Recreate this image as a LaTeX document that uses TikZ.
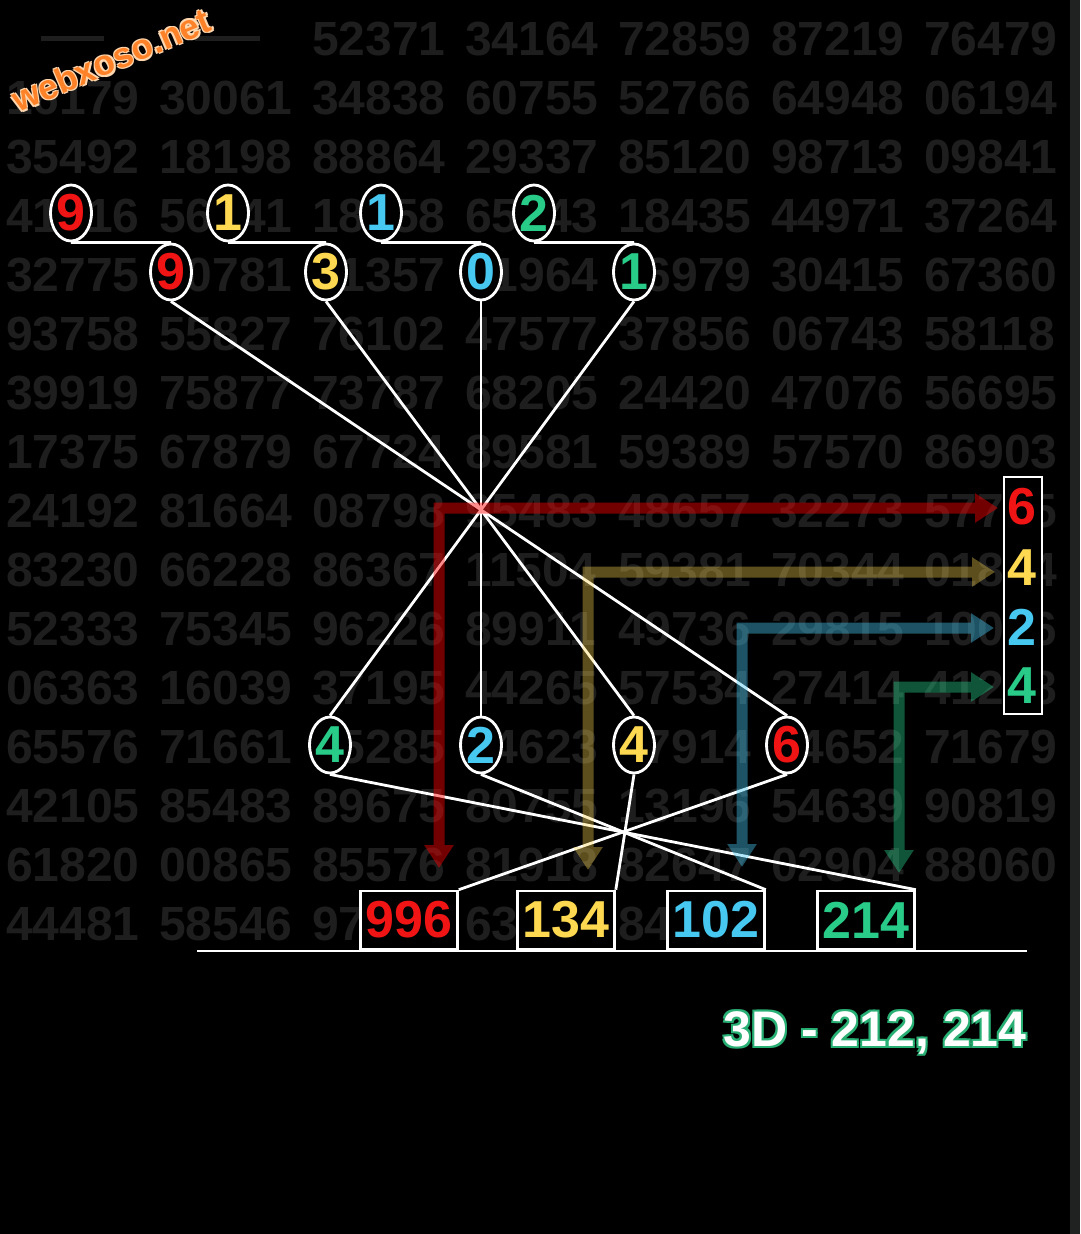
\documentclass[tikz,border=0pt]{standalone}
\usepackage{fontspec}
\setmainfont{Liberation Sans}
\usetikzlibrary{shapes.geometric,arrows.meta}
\definecolor{gridc}{RGB}{30,30,30}
\definecolor{cred}{RGB}{240,20,20}
\definecolor{cyel}{RGB}{253,216,80}
\definecolor{cblu}{RGB}{70,200,240}
\definecolor{cgrn}{RGB}{40,204,136}
\definecolor{worange}{RGB}{255,130,40}
\definecolor{wedge}{RGB}{255,215,175}
\definecolor{tgreen}{RGB}{40,175,115}
\definecolor{strip}{RGB}{32,34,34}
\begin{document}
\begin{tikzpicture}[x=1pt,y=-1pt,
  bgnum/.style={anchor=base west, inner sep=0, text=gridc, font=\fontsize{48}{48}\selectfont\bfseries},
  ball/.style={ellipse, draw=white, line width=2.8pt, fill=black, inner sep=0, minimum width=40pt, minimum height=56pt, font=\fontsize{52}{52}\selectfont\bfseries},
  resbox/.style={rectangle, draw=white, line width=2.6pt, fill=black, minimum width=97pt, minimum height=58pt, inner sep=0, font=\fontsize{52}{52}\selectfont\bfseries},
  sidenum/.style={inner sep=0, font=\fontsize{52}{52}\selectfont\bfseries},
  link/.style={white, line width=2.8pt},
  flow/.style={line width=11pt, line join=miter, {Triangle[width=28pt,length=23pt]}-{Triangle[width=28pt,length=23pt]}},
  titlefont/.style={inner sep=0, font=\fontsize{50}{50}\selectfont\bfseries},
  markfont/.style={inner sep=0, rotate=23, font=\fontsize{35}{35}\selectfont\bfseries}
]
\useasboundingbox (0,0) rectangle (1080,1234);
% background and frame
\fill[black] (0,0) rectangle (1080,1234);
\fill[strip] (1070,0) rectangle (1080,1234);

% background number grid
\coordinate (d1a) at (41,38); \coordinate (d1b) at (104,38);
\coordinate (d2a) at (195,38); \coordinate (d2b) at (260,38);
\draw[gridc, line width=5pt] (d1a) -- (d1b);
\draw[gridc, line width=5pt] (d2a) -- (d2b);
\foreach \n [count=\c from 2] in {52371,34164,72859,87219,76479}
  \node[bgnum] (g-1-\c) at ({6+153*\c},55) {\n};
\foreach \rw [count=\r from 2] in {
  {16179,30061,34838,60755,52766,64948,06194},
  {35492,18198,88864,29337,85120,98713,09841},
  {41916,56141,18158,65243,18435,44971,37264},
  {32775,90781,31357,01964,16979,30415,67360},
  {93758,55827,76102,47577,37856,06743,58118},
  {39919,75877,73787,68205,24420,47076,56695},
  {17375,67879,67724,89581,59389,57570,86903},
  {24192,81664,08798,95483,48657,32273,57765},
  {83230,66228,86367,11504,59381,70344,01844},
  {52333,75345,96226,89911,49736,29815,10026},
  {06363,16039,37195,44265,57534,27414,41238},
  {65576,71661,45285,54623,17914,24652,71679},
  {42105,85483,89675,80755,13196,54639,90819},
  {61820,00865,85576,81918,82647,02904,88060},
  {44481,58546,97512,63380,84127}}
{
  \foreach \n [count=\c from 0] in \rw
    \node[bgnum] (g-\r-\c) at ({6+153*\c},{55+59*(\r-1)}) {\n};
}

% watermark
\foreach \a in {45,135,225,315}
  \path (111,60) ++(\a:1.8) node[markfont, text=wedge] (wm-\a) {webxoso.net};
\node[markfont, text=worange] (wm) at (111,60) {webxoso.net};

% balls
\node[ball, text=cred] (t1) at (71,213) {9};
\node[ball, text=cyel] (t2) at (228,213) {1};
\node[ball, text=cblu] (t3) at (381,213) {1};
\node[ball, text=cgrn] (t4) at (534,213) {2};
\node[ball, text=cred] (s1) at (171,272) {9};
\node[ball, text=cyel] (s2) at (326,272) {3};
\node[ball, text=cblu] (s3) at (481,272) {0};
\node[ball, text=cgrn] (s4) at (634,272) {1};
\node[ball, text=cgrn] (b1) at (330,745) {4};
\node[ball, text=cblu] (b2) at (481,745) {2};
\node[ball, text=cyel] (b3) at (634,745) {4};
\node[ball, text=cred] (b4) at (787,745) {6};

% result boxes
\node[resbox, text=cred] (x996) at (409,920) {996};
\node[resbox, text=cyel] (x134) at (566,920) {134};
\node[resbox, text=cblu] (x102) at (716,920) {102};
\node[resbox, text=cgrn] (x214) at (866,920) {214};

% side box
\node[draw=white, line width=2.6pt, fill=black, minimum width=38pt, minimum height=237pt, inner sep=0] (rbox) at (1023,595.5) {};
\node[sidenum, text=cred] (r1) at (1022,507) {6};
\node[sidenum, text=cyel] (r2) at (1022,568) {4};
\node[sidenum, text=cblu] (r3) at (1022,627) {2};
\node[sidenum, text=cgrn] (r4) at (1022,686) {4};

% connectors
\draw[link] (t1.south) -- (s1.north);
\draw[link] (t2.south) -- (s2.north);
\draw[link] (t3.south) -- (s3.north);
\draw[link] (t4.south) -- (s4.north);
\draw[link] (s1.south) -- (b4.north);
\draw[link] (s2.south) -- (b3.north);
\draw[link] (s3.south) -- (b2.north);
\draw[link] (s4.south) -- (b1.north);
\draw[link] (b1.south) -- (x214.north east);
\draw[link] (b2.south) -- (x102.north east);
\draw[link] (b3.south) -- (x134.north east);
\draw[link] (b4.south) -- (x996.north east);

% base rule
\coordinate (baseL) at (197,951);
\coordinate (baseR) at (1027,951);
\draw[white, line width=2.6pt] (baseL) -- (baseR);

% flow arrows
\coordinate (rD) at (439,868); \coordinate (rR) at (998,508);
\coordinate (yD) at (588,870); \coordinate (yR) at (995,572);
\coordinate (bD) at (742,867); \coordinate (bR) at (994,628);
\coordinate (gD) at (899,873); \coordinate (gR) at (994,687);
\begin{scope}[transparency group, opacity=0.45]
  \draw[flow, red] (rD) |- (rR);
\end{scope}
\begin{scope}[transparency group, opacity=0.37]
  \draw[flow, cyel] (yD) |- (yR);
\end{scope}
\begin{scope}[transparency group, opacity=0.42]
  \draw[flow, cblu] (bD) |- (bR);
\end{scope}
\begin{scope}[transparency group, opacity=0.42]
  \draw[flow, cgrn] (gD) |- (gR);
\end{scope}

% title
\foreach \a in {45,135,225,315}
  \path (875,1033) ++(\a:2.8) node[titlefont, text=tgreen] (tt-\a) {3D - 212, 214};
\node[titlefont, text=white] (title) at (875,1033) {3D - 212, 214};
\end{tikzpicture}
\end{document}
